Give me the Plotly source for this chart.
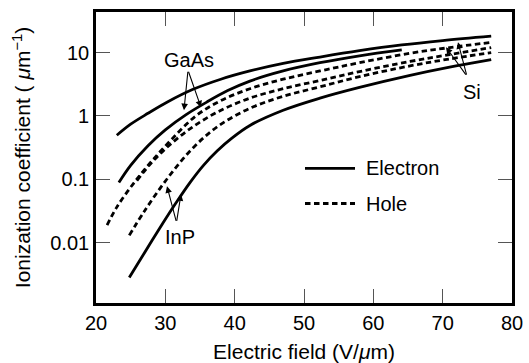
import math
import plotly.graph_objects as go

# ---- data (x: V/um, y: 1/um) ----
s1_x = [23.0, 25.0, 27.5, 30.3, 34.0, 38.0, 42.2, 47.0, 52.3, 58.0, 64.1, 70.0, 77.0]
s1_y = [0.495, 0.741, 1.10, 1.66, 2.63, 3.80, 5.13, 6.76, 8.51, 10.7, 13.2, 15.5, 18.2]

s2_x = [23.3, 25.0, 27.5, 30.0, 33.0, 36.0, 39.0, 42.2, 47.0, 52.3, 58.0, 64.1]
s2_y = [0.0891, 0.166, 0.339, 0.603, 1.05, 1.66, 2.51, 3.55, 5.13, 6.92, 8.91, 11.0]

s3_x = [24.8, 27.0, 29.5, 31.5, 33.5, 35.5, 37.5, 39.6, 42.2, 47.0, 52.3, 58.0, 65.3, 71.0, 77.0]
s3_y = [0.0028, 0.00692, 0.0191, 0.0417, 0.0871, 0.166, 0.282, 0.447, 0.708, 1.23, 1.91, 2.82, 4.37, 5.89, 7.76]

d1_x = [21.6, 23.0, 25.4, 28.0, 31.0, 34.4, 38.0, 42.2, 47.0, 52.3, 58.0, 65.3, 71.0, 77.0]
d1_y = [0.0188, 0.0363, 0.0855, 0.191, 0.437, 1.0, 1.74, 2.69, 3.80, 5.13, 6.92, 9.77, 12.0, 14.5]

d2_x = [25.9, 28.0, 30.5, 33.6, 37.5, 42.2, 47.0, 52.3, 58.0, 65.3, 71.0, 77.0]
d2_y = [0.0955, 0.182, 0.339, 0.631, 1.15, 1.91, 2.69, 3.63, 5.01, 7.24, 9.33, 12.0]

d3_x = [24.8, 27.0, 30.1, 33.6, 37.5, 42.2, 47.0, 52.3, 58.0, 65.3, 71.0, 77.0]
d3_y = [0.0130, 0.0316, 0.0964, 0.282, 0.676, 1.32, 2.04, 2.88, 4.17, 6.17, 7.94, 10.0]

y_tickvals = [0.01, 0.1, 1, 10]
y_ticktext = ["0.01", "0.1", "1", "10"]
x_tickvals = [20, 30, 40, 50, 60, 70, 80]

FONT = "Liberation Sans, Arial, Helvetica, sans-serif"
DASH = "5.5px,3.5px"
LW = 2.8

fig = go.Figure()
for xs, ys, dash in [
    (s1_x, s1_y, "solid"), (s2_x, s2_y, "solid"), (s3_x, s3_y, "solid"),
    (d1_x, d1_y, DASH), (d2_x, d2_y, DASH), (d3_x, d3_y, DASH),
]:
    fig.add_trace(go.Scatter(x=xs, y=ys, mode="lines",
                             line=dict(color="black", width=LW, dash=dash, shape="spline", smoothing=1.0),
                             showlegend=False, hoverinfo="skip"))

L = math.log10

def arrow(tx, ty, hx, hy):
    fig.add_annotation(x=hx, y=L(hy), ax=tx, ay=L(ty), xref="x", yref="y", axref="x", ayref="y",
                       text="", showarrow=True, arrowhead=2, arrowsize=1.2, arrowwidth=1.1,
                       arrowcolor="black", standoff=0, startstandoff=0)

LBL = dict(size=20, color="black", family=FONT)
# GaAs label + arrows
fig.add_annotation(x=33.4, y=L(7.6), text="GaAs", showarrow=False, xref="x", yref="y", font=LBL)
arrow(33.27, 5.27, 32.69, 1.23)
arrow(33.27, 5.27, 35.14, 1.37)
# Si label + arrows
fig.add_annotation(x=74.2, y=L(2.41), text="Si", showarrow=False, xref="x", yref="y", font=LBL)
arrow(73.5, 4.24, 70.48, 12.2)
arrow(73.5, 4.24, 72.21, 14.6)
# InP label + arrows
fig.add_annotation(x=32.1, y=L(0.0121), text="InP", showarrow=False, xref="x", yref="y", font=LBL)
arrow(31.61, 0.0209, 30.24, 0.0776)
arrow(31.61, 0.0209, 32.26, 0.058)

# legend (drawn as keys + text)
fig.add_shape(type="line", xref="paper", yref="paper", x0=0.5024, x1=0.6226, y0=0.4623, y1=0.4623,
              line=dict(color="black", width=LW))
fig.add_shape(type="line", xref="paper", yref="paper", x0=0.5024, x1=0.6226, y0=0.3419, y1=0.3419,
              line=dict(color="black", width=LW, dash=DASH))
fig.add_annotation(x=0.6442, y=0.4623, xref="paper", yref="paper", text="Electron", showarrow=False,
                   xanchor="left", yanchor="middle", font=LBL)
fig.add_annotation(x=0.6442, y=0.3419, xref="paper", yref="paper", text="Hole", showarrow=False,
                   xanchor="left", yanchor="middle", font=LBL)

axis_common = dict(showline=True, linecolor="black", linewidth=2.6, mirror="ticks",
                   ticks="inside", ticklen=14, tickwidth=1.4, tickcolor="#555",
                   showgrid=False, zeroline=False,
                   tickfont=dict(size=20, color="black", family=FONT))

fig.update_xaxes(range=[20, 80], tickvals=x_tickvals,
                 title=dict(text="Electric field (V/<i>μ</i>m)", font=dict(size=21, color="black", family=FONT), standoff=12),
                 **axis_common)
fig.update_yaxes(type="log", range=[-2.954, 1.641], tickvals=y_tickvals, ticktext=y_ticktext,
                 title=dict(text="Ionization coefficient ( <i>μ</i>m<sup>−1</sup>)", font=dict(size=21, color="black", family=FONT), standoff=14),
                 **axis_common)

fig.update_layout(width=529, height=363, margin=dict(l=96, r=17, t=12, b=60, autoexpand=False),
                  paper_bgcolor="white", plot_bgcolor="white", font=dict(family=FONT, color="black"))

fig.write_html("out.html", config={"displayModeBar": False},
               post_script="document.body.style.margin='0';document.body.style.overflow='hidden';")
